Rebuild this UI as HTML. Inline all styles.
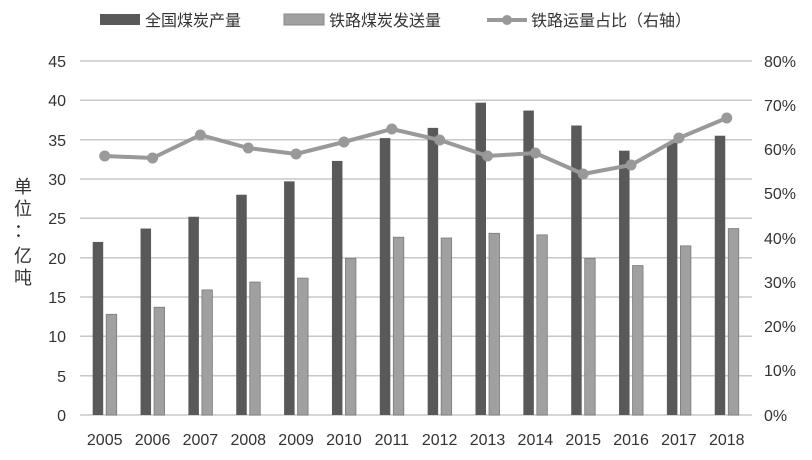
<!DOCTYPE html>
<html><head><meta charset="utf-8"><style>
body{margin:0;background:#fff}
svg text{font-family:"Liberation Sans","Noto Sans CJK SC",sans-serif;fill:#333}
</style></head><body>
<svg width="812" height="455" xmlns="http://www.w3.org/2000/svg">
<g stroke="#c8c8c8" stroke-width="1.5">
<line x1="80" x2="752" y1="61" y2="61"/><line x1="80" x2="752" y1="100.3" y2="100.3"/>
<line x1="80" x2="752" y1="139.7" y2="139.7"/><line x1="80" x2="752" y1="179" y2="179"/>
<line x1="80" x2="752" y1="218.3" y2="218.3"/><line x1="80" x2="752" y1="257.7" y2="257.7"/>
<line x1="80" x2="752" y1="297" y2="297"/><line x1="80" x2="752" y1="336.3" y2="336.3"/>
<line x1="80" x2="752" y1="375.7" y2="375.7"/><line x1="80" x2="752" y1="415" y2="415"/>
</g>
<g font-size="16" text-anchor="end">
<text x="66" y="67">45</text><text x="66" y="106">40</text><text x="66" y="146">35</text><text x="66" y="185">30</text><text x="66" y="224">25</text><text x="66" y="264">20</text><text x="66" y="303">15</text><text x="66" y="342">10</text><text x="66" y="382">5</text><text x="66" y="421">0</text>
</g>
<g font-size="16">
<text x="764" y="67">80%</text><text x="764" y="111">70%</text><text x="764" y="155">60%</text><text x="764" y="199">50%</text><text x="764" y="244">40%</text><text x="764" y="288">30%</text><text x="764" y="332">20%</text><text x="764" y="376">10%</text><text x="764" y="421">0%</text>
</g>
<g font-size="18"><text x="14" y="193">单</text><text x="14" y="215">位</text><text x="14" y="237">：</text><text x="14" y="262">亿</text><text x="14" y="284">吨</text></g>
<g id="bars"></g>
<g font-size="16" text-anchor="middle" id="xl"></g>
<polyline id="ln" fill="none" stroke="#999" stroke-width="4"/>
<g id="mk" fill="#999"></g>
<rect x="100" y="14" width="40" height="11" fill="#595959"/>
<text x="145" y="26" font-size="16">全国煤炭产量</text>
<rect x="284" y="14" width="40" height="11" fill="#a0a0a0" stroke="#888"/>
<text x="329" y="26" font-size="16">铁路煤炭发送量</text>
<line x1="487" x2="527" y1="20" y2="20" stroke="#999" stroke-width="4"/><circle cx="507" cy="20" r="5" fill="#999"/>
<text x="531" y="26" font-size="16">铁路运量占比（右轴）</text>
</svg>
<script>
const d=[22.0,23.7,25.2,28.0,29.7,32.3,35.2,36.5,39.7,38.7,36.8,33.6,34.6,35.5];
const l=[12.8,13.7,15.9,16.9,17.4,19.9,22.6,22.5,23.1,22.9,19.9,19.0,21.5,23.7];
const p=[156,158,135,148,154,142,129,140,156,153,174,165,138,118];
const ns="http://www.w3.org/2000/svg";const s=7.8667;
let b=document.getElementById('bars'),x=document.getElementById('xl'),m=document.getElementById('mk'),pts=[];
for(let i=0;i<14;i++){const c=104.7+i*47.85;
const r1=document.createElementNS(ns,'rect');r1.setAttribute('x',c-12);r1.setAttribute('width',10.5);r1.setAttribute('y',415-d[i]*s);r1.setAttribute('height',d[i]*s);r1.setAttribute('fill','#595959');b.appendChild(r1);
const r2=document.createElementNS(ns,'rect');r2.setAttribute('x',c+1.5);r2.setAttribute('width',10.5);r2.setAttribute('y',415-l[i]*s);r2.setAttribute('height',l[i]*s);r2.setAttribute('fill','#a0a0a0');r2.setAttribute('stroke','#7a7a7a');r2.setAttribute('stroke-width','0.8');b.appendChild(r2);
const t=document.createElementNS(ns,'text');t.setAttribute('x',c);t.setAttribute('y',445);t.textContent=2005+i;x.appendChild(t);
pts.push(c+','+p[i]);const ci=document.createElementNS(ns,'circle');ci.setAttribute('cx',c);ci.setAttribute('cy',p[i]);ci.setAttribute('r',5.5);m.appendChild(ci);}
document.getElementById('ln').setAttribute('points',pts.join(' '));
</script>
</body></html>
